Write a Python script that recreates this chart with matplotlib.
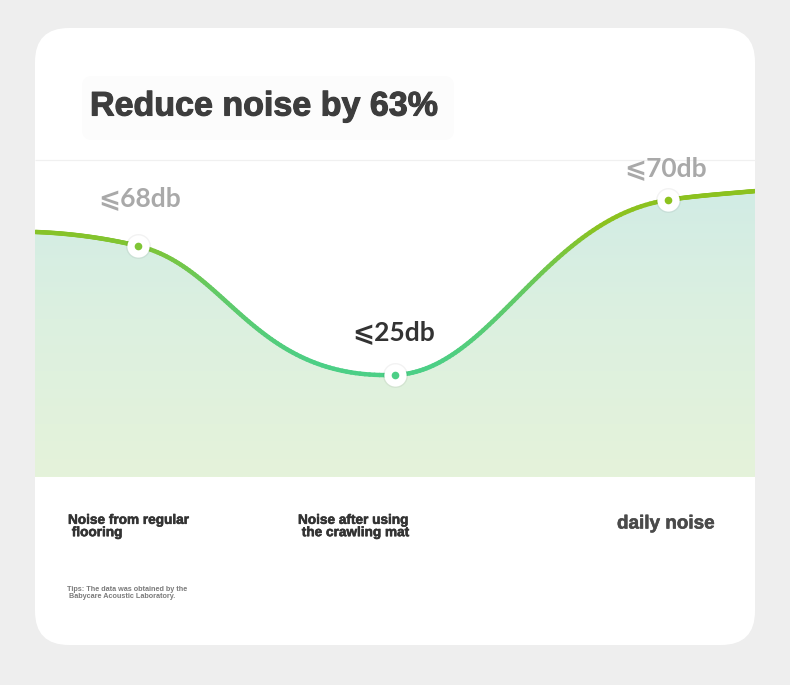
import numpy as np
import matplotlib
matplotlib.use("Agg")
import matplotlib.pyplot as plt
import matplotlib.patheffects as pe
from matplotlib.path import Path
from matplotlib.patches import FancyBboxPatch, PathPatch
from matplotlib.collections import LineCollection
from matplotlib.colors import LinearSegmentedColormap, Normalize

# data
categories = ["Noise from regular\n flooring", "Noise after using\n the crawling mat", "daily noise"]
noise_db = [68, 25, 70]
value_labels = ["⩽68db", "⩽25db", "⩽70db"]

# visual height of the curve (0 = bottom of the band, 100 = top guide line)
point_x = [0, 0.97, 2]
point_level = [72.9, 32.2, 87.4]
end_x = [-0.389, 2.328]
end_level = [77.3, 90.2]
# slope of the curve at left end, at each point, at right end (level per category)
slopes = [-3, -20, 3, 12.5, 7.5]

title = "Reduce noise by 63%"
tips = "Tips: The data was obtained by the\n Babycare Acoustic Laboratory."

W, H = 790, 685
fig = plt.figure(figsize=(W / 100, H / 100), dpi=100)
fig.patch.set_facecolor("#eeeeee")

# background / card in pixel coordinates
bg = fig.add_axes([0, 0, 1, 1])
bg.set_xlim(0, W)
bg.set_ylim(H, 0)
bg.axis("off")
bg.add_patch(FancyBboxPatch((35, 28), 720, 617, boxstyle="round,pad=0,rounding_size=34",
                            facecolor="white", edgecolor="none"))
bg.add_patch(FancyBboxPatch((82, 76), 372, 64, boxstyle="round,pad=0,rounding_size=10",
                            facecolor="#fcfcfc", edgecolor="none"))
bg.hlines([160], 35, 755, color="#f0f0f0", lw=0.9)

bg.text(90, 107, title, fontsize=24.5, fontweight="bold", color="#3d3d3d",
        family="Liberation Sans", va="center", ha="left",
        path_effects=[pe.withStroke(linewidth=0.8, foreground="#3d3d3d")])

# chart axes over the band
ax = fig.add_axes([35 / W, (H - 477) / H, 720 / W, 317 / H])
ax.set_xlim(end_x[0], end_x[1])
ax.set_ylim(0, 100)
ax.axis("off")
ax.patch.set_alpha(0)

# build smooth curve as cubic bezier segments
xs = [end_x[0]] + point_x + [end_x[1]]
ys = [end_level[0]] + point_level + [end_level[1]]
# handle lengths (fraction of segment) : out of start, into end
handles = [(0.33, 0.33), (0.35, 0.55), (0.35, 0.45), (0.33, 0.33)]
verts = [(xs[0], ys[0])]
codes = [Path.MOVETO]
for i in range(len(xs) - 1):
    dx = xs[i + 1] - xs[i]
    a, b = handles[i]
    c1 = (xs[i] + a * dx, ys[i] + a * dx * slopes[i])
    c2 = (xs[i + 1] - b * dx, ys[i + 1] - b * dx * slopes[i + 1])
    verts += [c1, c2, (xs[i + 1], ys[i + 1])]
    codes += [Path.CURVE4] * 3
curve = Path(verts, codes)

pts = []
for seg, code in curve.iter_bezier():
    if code == Path.CURVE4:
        pts.append(seg(np.linspace(0, 1, 80)))
pts = np.vstack(pts)

# gradient fill under curve
fill_poly = np.vstack([pts, [[end_x[1], 0], [end_x[0], 0]]])
fill_patch = PathPatch(Path(fill_poly), facecolor="none", edgecolor="none")
ax.add_patch(fill_patch)
fill_cmap = LinearSegmentedColormap.from_list("fill", ["#e5f3da", "#dcf0e0", "#cfebe6"])
grad = np.linspace(0, 1, 256).reshape(-1, 1)
im = ax.imshow(grad, extent=[end_x[0], end_x[1], 0, 100], origin="lower",
               aspect="auto", cmap=fill_cmap, zorder=1)
im.set_clip_path(fill_patch)

# gradient line coloured by height
line_cmap = LinearSegmentedColormap.from_list("line", ["#4ccf86", "#62ca68", "#8cc21f"])
norm = Normalize(vmin=35, vmax=80)
segs = np.stack([pts[:-1], pts[1:]], axis=1)
mid = (pts[:-1, 1] + pts[1:, 1]) / 2
lc = LineCollection(segs, colors=line_cmap(norm(mid)), linewidths=3.2,
                    capstyle="round", zorder=3)
ax.add_collection(lc)

# markers
ax.plot(point_x, point_level, "o", ms=18, color="black", alpha=0.05, zorder=4, mec="none")
ax.plot(point_x, point_level, "o", ms=16, color="white", zorder=5, mec="none")
for x, lv in zip(point_x, point_level):
    ax.plot(x, lv, "o", ms=5.5, color=line_cmap(norm(lv)), zorder=6, mec="none")

# value labels
label_colors = ["#a9a9a9", "#333333", "#a9a9a9"]
label_offsets = [(1, 29), (-1, 25), (-2, 17)]
for x, lv, txt, c, off in zip(point_x, point_level, value_labels, label_colors, label_offsets):
    ax.annotate(txt, (x, lv), xytext=off, textcoords="offset points", ha="center",
                va="baseline", fontsize=19, fontweight="bold", color=c,
                family=["Lato", "DejaVu Sans"], zorder=7)

# category labels
cat_pos = [(68, 526), (298, 526), (617, 524)]
cat_sizes = [9.8, 9.8, 13.6]
cat_colors = ["#333333", "#333333", "#4a4a4a"]
for txt, (px, py), fs, c in zip(categories, cat_pos, cat_sizes, cat_colors):
    bg.text(px, py, txt, fontsize=fs, fontweight="bold", color=c, family="Liberation Sans",
            ha="left", va="center", linespacing=0.85,
            path_effects=[pe.withStroke(linewidth=0.4, foreground=c)])

bg.text(67, 593, tips, fontsize=5.2, fontweight="bold", color="#7a7a7a",
        family="Liberation Sans", ha="left", va="center", linespacing=1.1)

fig.savefig("out.png", dpi=100, facecolor=fig.get_facecolor())
